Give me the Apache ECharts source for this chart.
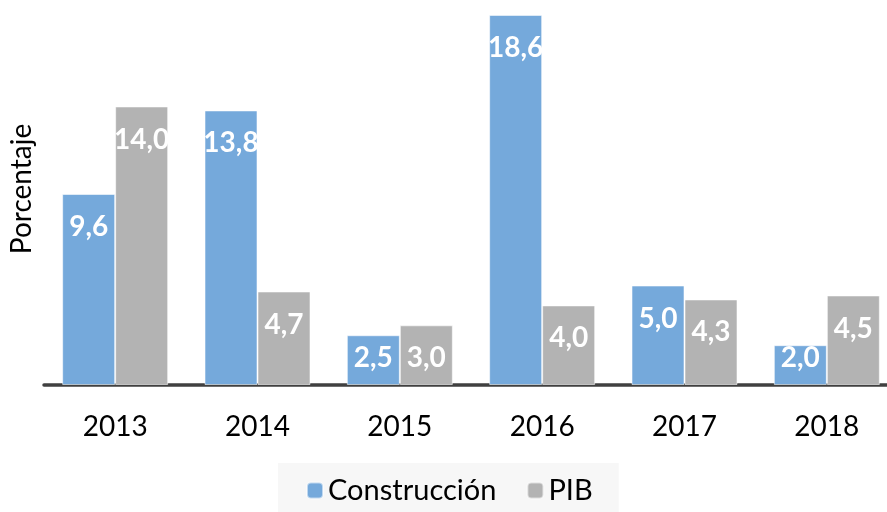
<!DOCTYPE html>
<html>
<head>
<meta charset="utf-8">
<script src="https://cdn.jsdelivr.net/npm/echarts@6/dist/echarts.min.js"></script>
<style>
  html, body { margin: 0; padding: 0; background: #fff; }
  #chart { width: 887px; height: 512px; }
</style>
</head>
<body>
<div id="chart"></div>
<script>
  var years = ['2013', '2014', '2015', '2016', '2017', '2018']
  var construccion = [9.6, 13.8, 2.5, 18.6, 5.0, 2.0]
  var pib = [14.0, 4.7, 3.0, 4.0, 4.3, 4.5]

  var font = 'Lato, "Open Sans", sans-serif'

  // Excel coloca la etiqueta cerca del extremo; en barras bajas queda abajo
  function withLabels(values) {
    return values.map(function (v) {
      if (v < 3.5) {
        return { value: v, label: { position: 'insideBottom', distance: 13 } }
      }
      return { value: v }
    })
  }

  function barSeries(name, color, values) {
    return {
      name: name,
      type: 'bar',
      barWidth: 53,
      barGap: '0%',
      itemStyle: {
        color: color,
        borderColor: 'rgba(255,255,255,0.55)',
        borderWidth: 1
      },
      label: {
        show: true,
        position: 'insideTop',
        distance: 19,
        color: '#fff',
        fontFamily: font,
        fontWeight: 'bold',
        fontSize: 28,
        formatter: function (p) {
          return p.value.toFixed(1).replace('.', ',')
        }
      },
      data: withLabels(values)
    }
  }

  var chart = echarts.init(document.getElementById('chart'))
  var option = {
    animation: false,
    grid: {
      left: 44,
      top: 7,
      width: 854,
      bottom: 127,
      outerBoundsMode: 'none'
    },
    legend: {
      left: 278,
      top: 463,
      itemWidth: 16,
      itemHeight: 16,
      itemGap: 30,
      padding: [13, 26, 30, 28],
      backgroundColor: '#f7f7f7',
      textStyle: {
        fontFamily: font,
        fontSize: 29,
        color: '#000'
      },
      data: ['Construcción', 'PIB']
    },
    xAxis: {
      type: 'category',
      data: years,
      axisLine: {
        lineStyle: { color: '#404040', width: 3.5 }
      },
      axisTick: { show: false },
      axisLabel: {
        margin: 28,
        fontFamily: font,
        fontSize: 28,
        color: '#000'
      }
    },
    yAxis: {
      type: 'value',
      min: 0,
      max: 19,
      name: 'Porcentaje',
      nameLocation: 'middle',
      nameRotate: 90,
      nameGap: 8,
      nameTextStyle: {
        fontFamily: font,
        fontSize: 28,
        color: '#000',
        padding: [0, 0, 0, 14]
      },
      axisLine: { show: false },
      axisTick: { show: false },
      axisLabel: { show: false },
      splitLine: { show: false }
    },
    series: [
      barSeries('Construcción', '#75a9db', construccion),
      barSeries('PIB', '#b3b3b3', pib)
    ]
  }
  chart.setOption(option)
</script>
</body>
</html>
